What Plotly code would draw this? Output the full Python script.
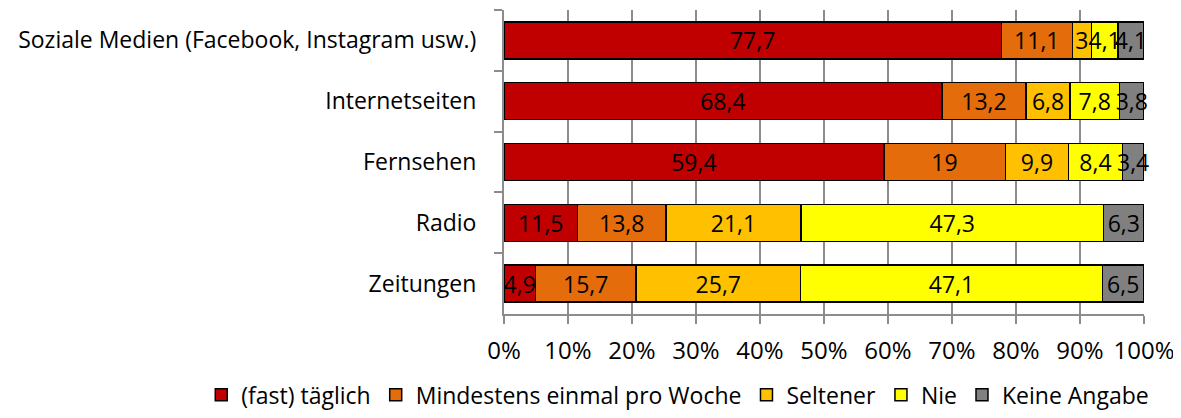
import plotly.graph_objects as go

categories = ["Soziale Medien (Facebook, Instagram usw.)", "Internetseiten",
              "Fernsehen", "Radio", "Zeitungen"]
series_names = ["(fast) täglich", "Mindestens einmal pro Woche", "Seltener",
                "Nie", "Keine Angabe"]
taeglich = [77.7, 68.4, 59.4, 11.5, 4.9]
woechentlich = [11.1, 13.2, 19, 13.8, 15.7]
seltener = [3, 6.8, 9.9, 21.1, 25.7]
nie = [4.1, 7.8, 8.4, 47.3, 47.1]
keine_angabe = [4.1, 3.8, 3.4, 6.3, 6.5]
x_ticks = [0, 10, 20, 30, 40, 50, 60, 70, 80, 90, 100]

colors = ["#C00000", "#E46C0A", "#FFC000", "#FFFF00", "#808080"]
FONT = "Open Sans"
FS = 23

fig = go.Figure()
for name, vals, col in zip(series_names,
                           [taeglich, woechentlich, seltener, nie, keine_angabe],
                           colors):
    fig.add_trace(go.Bar(
        y=categories, x=vals, name=name, orientation="h",
        marker=dict(color=col, line=dict(color="black", width=1.5)),
        text=[f"{v:g}".replace(".", ",") for v in vals],
        textposition="inside", insidetextanchor="middle",
        constraintext="none", cliponaxis=False, textangle=0,
        textfont=dict(color="black", size=FS, family=FONT),
    ))

# page body has an 8px margin, so the figure is a bit smaller and offset
fig.update_layout(
    barmode="stack", barnorm="percent", bargap=0.39,
    width=1173, height=410,
    margin=dict(l=496, r=37, t=2, b=104, autoexpand=False),
    paper_bgcolor="white", plot_bgcolor="white",
    font=dict(family=FONT, size=FS, color="black"),
    legend=dict(orientation="h", x=-0.473, xanchor="left", y=-0.266,
                yanchor="middle", font=dict(size=FS, family=FONT),
                traceorder="normal", itemwidth=30),
    showlegend=True,
)
fig.update_xaxes(
    range=[0, 100], tickvals=x_ticks, ticktext=[f"{t}%" for t in x_ticks],
    tickfont=dict(size=24),
    showgrid=True, gridcolor="#8c8c8c", gridwidth=2,
    showline=True, linecolor="#8c8c8c", linewidth=2,
    ticks="outside", ticklen=8, tickcolor="#8c8c8c", tickwidth=2,
    ticklabelstandoff=6, zeroline=False, automargin=False,
)
fig.update_yaxes(
    categoryorder="array", categoryarray=categories, autorange="reversed",
    showgrid=False, showline=True, linecolor="#8c8c8c", linewidth=2,
    ticks="outside", ticklen=8, tickcolor="#8c8c8c", tickwidth=2,
    tickson="boundaries", ticklabelstandoff=21, automargin=False,
)

fig.write_html("out.html")
